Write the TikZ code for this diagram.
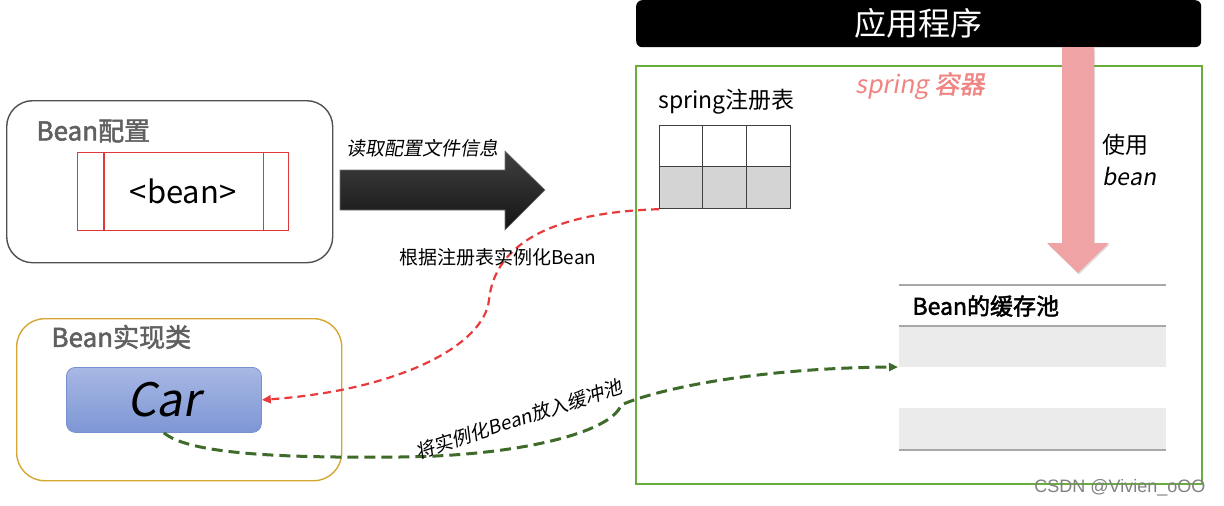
\documentclass[tikz,border=0pt]{standalone}
\usepackage{fontspec}
\setmainfont{Noto Sans CJK SC}
\newfontfamily\cjk{Noto Sans CJK SC}
\newfontfamily\cjkit[FakeSlant=0.18]{Noto Sans CJK SC}
\newfontfamily\cjkbf[FakeBold=2]{Noto Sans CJK SC}
\newfontfamily\cjkbfit[FakeBold=1.5,FakeSlant=0.18]{Noto Sans CJK SC}
\newfontfamily\wmfont{Liberation Sans}
\usetikzlibrary{arrows.meta,shadows}
\definecolor{cfgborder}{HTML}{505050}
\definecolor{implborder}{HTML}{D6A633}
\definecolor{beanred}{HTML}{E0383A}
\definecolor{carTop}{HTML}{A8B8E4}
\definecolor{carBot}{HTML}{7D96D5}
\definecolor{carBorder}{HTML}{7890CE}
\definecolor{contgreen}{HTML}{6AAD3F}
\definecolor{springpink}{HTML}{F08482}
\definecolor{usepink}{HTML}{F0A3A5}
\definecolor{poolline}{HTML}{A8A8A8}
\definecolor{poolfill}{HTML}{EBEBEB}
\definecolor{tblgray}{HTML}{D4D4D4}
\definecolor{redline}{HTML}{E83A3A}
\definecolor{greenline}{HTML}{3E6B2A}
\definecolor{titlegray}{HTML}{606060}
\newcommand{\fs}[1]{\fontsize{#1}{#1}\selectfont}
\tikzset{
  roundbox/.style={line width=1.4pt, minimum width=#1, anchor=north west},
  boxtitle/.style={anchor=west, text=titlegray, font=\cjkbf\fs{26}},
  redflow/.style={redline, line width=2.2pt, dash pattern=on 8pt off 5pt, -{Triangle[length=9pt,width=8pt]}},
  greenflow/.style={greenline, line width=3pt, dash pattern=on 11pt off 6pt, -{Triangle[length=9pt,width=8pt]}},
  poolrule/.style={poolline, line width=1.6pt},
  tblrule/.style={black!75, line width=1.2pt}
}
\begin{document}
\begin{tikzpicture}[x=1pt,y=-1pt]
\useasboundingbox (0,0) rectangle (1224,506);

% Bean config box
\node[roundbox=326, draw=cfgborder, rounded corners=26pt, minimum height=162] (cfg) at (6,100) {};
\node[boxtitle] (cfgtitle) at (33,131) {Bean配置};
\node[draw=beanred, line width=1.4pt, minimum width=211, minimum height=78, anchor=north west] (beanrect) at (77,152) {};
\draw[beanred, line width=1.4pt] ([xshift=27pt]beanrect.north west) -- ([xshift=27pt]beanrect.south west);
\draw[beanred, line width=1.4pt] ([xshift=-26pt]beanrect.north east) -- ([xshift=-26pt]beanrect.south east);
\node[font=\cjk\fs{31}] (beantxt) at (beanrect.center) {<bean>};

% black arrow
\shade[top color=black!75, bottom color=black!92, draw=black!55, line width=0.6pt]
  (340,170) -- (505,170) -- (505,151) -- (545,190) -- (505,230) -- (505,210) -- (340,210) -- cycle;
\node[font=\cjkit\fs{19}] (readlbl) at (422,148) {读取配置文件信息};

% Bean implementation box
\node[roundbox=325, draw=implborder, rounded corners=28pt, minimum height=162] (impl) at (16,318) {};
\node[boxtitle] (impltitle) at (48,337) {Bean实现类};
\node[draw=carBorder, line width=0.8pt, top color=carTop, bottom color=carBot, rounded corners=9pt,
      minimum width=195, minimum height=65, anchor=north west, font=\cjkit\fs{46}] (car) at (66,367) {Car};

% application bar
\node[fill=black, rounded corners=6pt, minimum width=565, minimum height=47, anchor=north west,
      text=white, font=\cjk\fs{32}] (app) at (636,0) {应用程序};

% spring container
\node[draw=contgreen, line width=1.8pt, minimum width=566, minimum height=418, anchor=north west] (cont) at (635,65) {};
\node[text=springpink, font=\fs{25}] (springlbl) at (920,86) {{\cjkit spring} {\cjkbfit 容器}};

% registry table
\node[anchor=west, font=\cjk\fs{23}] (tbllbl) at (655,102) {spring注册表};
\fill[tblgray] (659,166.5) rectangle (790,208);
\node[draw=black!75, line width=1.2pt, minimum width=131, minimum height=83, anchor=north west] (tbl) at (659,125) {};
\draw[tblrule] (702.7,125) -- (702.7,208);
\draw[tblrule] (746.3,125) -- (746.3,208);
\draw[tblrule] (659,166.5) -- (790,166.5);

% use arrow
\fill[usepink, drop shadow={opacity=0.25, shadow xshift=1pt, shadow yshift=-1.5pt}]
  (1062,47) -- (1094,47) -- (1094,243) -- (1109,243) -- (1078,273) -- (1047,243) -- (1062,243) -- cycle;
\node[anchor=west, font=\cjk\fs{23}] (use1) at (1099,145) {使用};
\node[anchor=west, font=\cjkit\fs{23}] (use2) at (1099,176) {bean};

% bean cache pool
\fill[poolfill] (899,326) rectangle (1166,367);
\fill[poolfill] (899,408) rectangle (1166,450);
\draw[poolrule] (899,285) -- (1166,285);
\draw[poolrule] (899,326) -- (1166,326);
\draw[poolrule] (899,450) -- (1166,450);
\node[anchor=west, font=\cjkbf\fs{23}] (poollbl) at (909,306) {Bean的缓存池};
\coordinate (poolin) at (898,367);

% connectors
\draw[redflow] (tbl.south west) .. controls (560,212) and (495,240) .. (489,300)
  .. controls (484,345) and (400,390) .. (car.east);
\node[font=\cjk\fs{19}] (instlbl) at (498,257) {根据注册表实例化Bean};

\draw[greenflow] (car.south) .. controls (190,455) and (290,458) .. (400,457)
  .. controls (520,456) and (612,432) .. (621,405)
  .. controls (660,388) and (760,368) .. (poolin);
\node[rotate=18, font=\cjkit\fs{19}] (putlbl) at (519,419) {将实例化Bean放入缓冲池};

% watermark
\node[anchor=east, text=black!50, font=\wmfont\fs{18}] (wm) at (1209,488) {CSDN @Vivien\_oOO};
\end{tikzpicture}
\end{document}
